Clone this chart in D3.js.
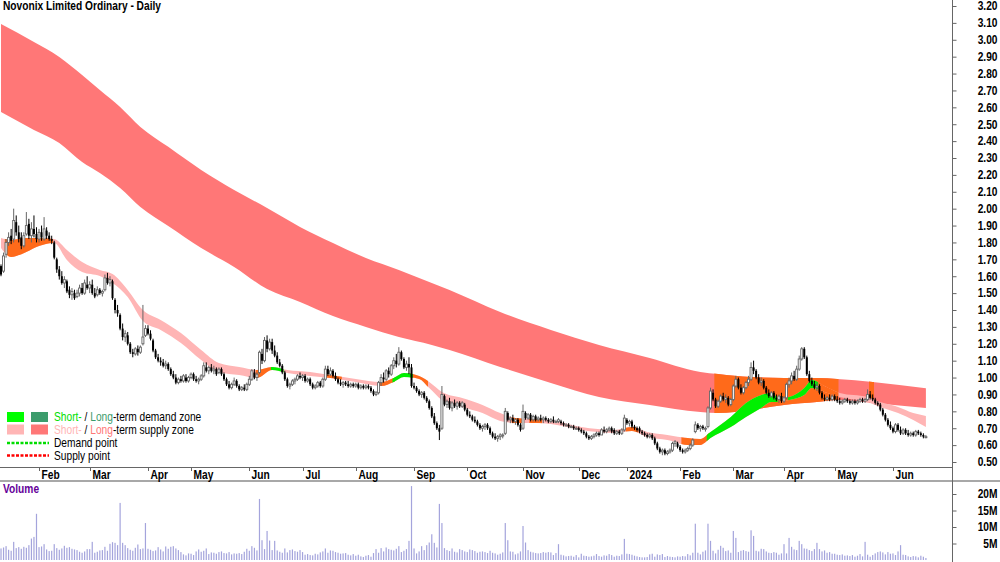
<!DOCTYPE html>
<html>
<head>
<meta charset="utf-8">
<script src="https://cdn.jsdelivr.net/npm/d3@7"></script>
<style>
  body { margin: 0; background: #fff; }
  svg { display: block; font-family: "Liberation Sans", Arial, sans-serif; }
  .title { font-size: 12px; font-weight: bold; }
  .axis-label { font-size: 12px; font-weight: bold; fill: #000; }
  .legend-text { font-size: 12px; }
  .vol-title { font-size: 12px; font-weight: bold; fill: #660099; }
</style>
</head>
<body>
<div id="chart"></div>
<script>
// ---- calendar ----
const startDate = new Date(2023, 0, 10);
const barCount = 366;
const holidays = ['2023-01-26', '2023-04-07', '2023-04-10', '2023-04-25', '2023-06-12', '2023-12-25',
  '2023-12-26', '2024-01-01', '2024-01-26', '2024-03-29', '2024-04-01', '2024-04-25', '2024-06-10'];
const monthLabels = ['Feb', 'Mar', 'Apr', 'May', 'Jun', 'Jul', 'Aug', 'Sep', 'Oct', 'Nov', 'Dec',
  '2024', 'Feb', 'Mar', 'Apr', 'May', 'Jun'];

// ---- daily prices (AUD) ----
const opens = [
  1.66,1.63,1.73,1.80,1.84,1.82,1.92,1.86,1.83,1.78, 1.85,1.91,1.84,1.88,1.85,1.82,1.86,1.82,1.87,1.84,
  1.82,1.80,1.70,1.64,1.60,1.56,1.57,1.52,1.49,1.50, 1.48,1.50,1.53,1.50,1.55,1.53,1.55,1.50,1.49,1.52,
  1.50,1.52,1.59,1.56,1.57,1.46,1.40,1.37,1.29,1.24, 1.25,1.20,1.15,1.14,1.17,1.15,1.20,1.25,1.29,1.26,
  1.22,1.16,1.12,1.10,1.09,1.07,1.08,1.05,1.02,1.00, 0.97,0.99,0.98,1.00,0.98,1.00,1.02,0.99,0.98,0.99,
  1.01,1.06,1.04,1.06,1.04,1.05,1.03,1.05,1.02,0.99, 0.96,0.94,0.96,0.98,0.95,0.93,0.94,0.93,0.96,0.99,
  1.03,1.00,1.03,1.14,1.10,1.22,1.17,1.21,1.16,1.13, 1.09,1.07,1.03,0.99,0.95,0.96,0.98,0.99,1.01,1.00,
  1.01,0.98,0.99,0.96,0.94,0.95,0.97,0.95,0.99,1.05, 1.02,1.04,1.01,0.99,0.97,0.96,0.97,0.96,0.95,0.96,
  0.95,0.96,0.94,0.95,0.94,0.95,0.94,0.92,0.90,0.91, 0.97,1.00,0.99,1.04,1.02,1.07,1.10,1.08,1.15,1.11,
  1.06,1.08,1.06,0.95,0.94,0.92,0.90,0.91,0.88,0.86, 0.82,0.77,0.73,0.70,0.70,0.89,0.84,0.86,0.82,0.85,
  0.83,0.85,0.83,0.84,0.81,0.78,0.77,0.75,0.74,0.72, 0.70,0.71,0.72,0.70,0.67,0.65,0.64,0.65,0.66,0.67,
  0.79,0.75,0.76,0.74,0.75,0.72,0.70,0.79,0.76,0.78, 0.75,0.77,0.75,0.76,0.75,0.76,0.75,0.74,0.75,0.74,
  0.74,0.74,0.73,0.72,0.72,0.71,0.71,0.70,0.70,0.69, 0.68,0.67,0.65,0.64,0.65,0.66,0.67,0.66,0.69,0.68,
  0.69,0.70,0.69,0.67,0.68,0.67,0.69,0.75,0.73,0.74, 0.71,0.70,0.70,0.68,0.67,0.66,0.65,0.66,0.64,0.61,
  0.58,0.56,0.57,0.55,0.56,0.57,0.61,0.61,0.59,0.57, 0.56,0.57,0.58,0.60,0.68,0.72,0.70,0.71,0.70,0.71,
  0.82,0.91,0.87,0.83,0.86,0.89,0.87,0.88,0.84,0.87, 0.95,0.99,0.94,0.91,0.94,0.97,0.99,1.06,1.04,1.00,
  0.97,0.98,0.94,0.91,0.89,0.91,0.88,0.87,0.89,0.86, 0.88,0.96,0.98,1.01,0.99,1.05,1.11,1.17,1.12,1.02,
  0.98,0.96,0.94,0.95,0.91,0.88,0.87,0.88,0.87,0.89, 0.87,0.86,0.85,0.86,0.87,0.86,0.85,0.86,0.85,0.86,
  0.87,0.86,0.87,0.90,0.88,0.87,0.85,0.84,0.81,0.78, 0.75,0.72,0.70,0.68,0.72,0.69,0.67,0.69,0.67,0.66,
  0.67,0.66,0.68,0.67,0.66,0.65
];
const highs = [
  1.67,1.74,1.82,1.86,1.88,2.00,1.96,1.90,1.86,1.86, 1.98,1.94,1.92,1.96,1.89,1.88,1.90,1.95,1.89,1.86,
  1.84,1.81,1.71,1.66,1.63,1.60,1.58,1.54,1.53,1.52, 1.52,1.55,1.56,1.58,1.60,1.57,1.58,1.53,1.54,1.53,
  1.52,1.61,1.62,1.60,1.58,1.47,1.43,1.38,1.32,1.28, 1.27,1.21,1.17,1.18,1.19,1.19,1.43,1.31,1.31,1.28,
  1.23,1.17,1.14,1.12,1.11,1.10,1.09,1.06,1.04,1.02, 1.00,1.01,1.02,1.02,1.01,1.03,1.03,1.01,1.00,1.02,
  1.09,1.09,1.07,1.08,1.07,1.06,1.06,1.06,1.03,1.00, 0.98,0.97,1.00,0.99,0.96,0.95,0.96,0.97,1.01,1.05,
  1.05,1.03,1.16,1.17,1.24,1.25,1.23,1.23,1.19,1.15, 1.11,1.08,1.04,1.00,0.97,0.99,1.00,1.02,1.03,1.02,
  1.02,1.00,1.00,0.97,0.96,0.98,0.98,1.00,1.07,1.07, 1.06,1.05,1.03,1.00,0.99,0.98,0.98,0.98,0.97,0.97,
  0.97,0.97,0.96,0.96,0.96,0.96,0.95,0.93,0.92,0.98, 1.02,1.03,1.05,1.06,1.08,1.12,1.14,1.18,1.16,1.12,
  1.10,1.12,1.08,0.97,0.95,0.93,0.92,0.92,0.89,0.87, 0.83,0.79,0.74,0.72,0.95,0.90,0.87,0.88,0.86,0.87,
  0.86,0.86,0.86,0.85,0.82,0.80,0.78,0.77,0.75,0.73, 0.72,0.73,0.73,0.71,0.68,0.67,0.66,0.67,0.67,0.82,
  0.80,0.77,0.78,0.76,0.76,0.73,0.84,0.80,0.79,0.79, 0.78,0.78,0.77,0.78,0.77,0.77,0.76,0.76,0.77,0.75,
  0.76,0.75,0.74,0.73,0.73,0.72,0.72,0.71,0.71,0.70, 0.69,0.68,0.66,0.66,0.67,0.68,0.68,0.70,0.71,0.70,
  0.71,0.71,0.70,0.69,0.69,0.70,0.78,0.76,0.75,0.75, 0.72,0.71,0.71,0.69,0.68,0.67,0.67,0.67,0.65,0.62,
  0.59,0.58,0.58,0.57,0.58,0.62,0.63,0.62,0.60,0.58, 0.58,0.59,0.61,0.64,0.74,0.73,0.72,0.72,0.71,0.83,
  0.94,0.93,0.88,0.87,0.90,0.91,0.90,0.89,0.88,0.96, 1.01,1.00,0.96,0.95,0.98,1.01,1.09,1.10,1.05,1.02,
  1.00,0.99,0.95,0.93,0.92,0.92,0.90,0.90,0.91,0.89, 0.97,1.00,1.03,1.04,1.07,1.13,1.18,1.18,1.13,1.04,
  1.00,0.98,0.97,0.96,0.92,0.90,0.89,0.90,0.90,0.90, 0.89,0.88,0.87,0.88,0.88,0.87,0.87,0.87,0.87,0.88,
  0.88,0.88,0.93,0.92,0.90,0.88,0.86,0.85,0.82,0.79, 0.76,0.74,0.71,0.73,0.73,0.71,0.70,0.70,0.69,0.68,
  0.68,0.69,0.69,0.68,0.67,0.66
];
const lows = [
  1.60,1.62,1.71,1.78,1.79,1.80,1.84,1.80,1.76,1.77, 1.84,1.82,1.80,1.83,1.80,1.80,1.81,1.81,1.82,1.81,
  1.79,1.70,1.62,1.58,1.55,1.53,1.50,1.47,1.46,1.46, 1.47,1.48,1.49,1.49,1.52,1.50,1.49,1.47,1.48,1.49,
  1.48,1.51,1.55,1.54,1.46,1.38,1.36,1.28,1.22,1.21, 1.19,1.14,1.12,1.13,1.13,1.14,1.19,1.24,1.25,1.22,
  1.15,1.11,1.09,1.07,1.06,1.05,1.04,1.01,0.99,0.96, 0.96,0.97,0.97,0.97,0.97,0.99,0.98,0.97,0.96,0.98,
  1.00,1.03,1.02,1.03,1.02,1.01,1.02,1.01,0.98,0.95, 0.93,0.93,0.95,0.94,0.92,0.92,0.92,0.92,0.95,0.98,
  0.99,0.98,1.02,1.08,1.09,1.15,1.16,1.14,1.12,1.08, 1.06,1.02,0.98,0.94,0.93,0.95,0.96,0.98,0.99,0.98,
  0.97,0.97,0.95,0.93,0.93,0.94,0.94,0.94,0.98,1.01, 1.01,1.00,0.98,0.96,0.95,0.94,0.95,0.94,0.94,0.94,
  0.94,0.93,0.93,0.93,0.93,0.93,0.91,0.89,0.89,0.90, 0.95,0.97,0.98,1.00,1.01,1.05,1.06,1.07,1.10,1.05,
  1.04,1.02,0.94,0.93,0.91,0.89,0.88,0.87,0.85,0.81, 0.76,0.72,0.69,0.63,0.69,0.83,0.82,0.81,0.80,0.82,
  0.81,0.82,0.82,0.80,0.77,0.76,0.74,0.73,0.71,0.69, 0.68,0.69,0.69,0.66,0.64,0.63,0.62,0.63,0.64,0.66,
  0.74,0.73,0.73,0.72,0.71,0.68,0.69,0.75,0.75,0.74, 0.74,0.74,0.74,0.74,0.73,0.74,0.73,0.73,0.73,0.73,
  0.73,0.72,0.71,0.71,0.70,0.70,0.69,0.69,0.68,0.67, 0.66,0.64,0.63,0.63,0.64,0.65,0.65,0.66,0.67,0.67,
  0.68,0.67,0.66,0.66,0.66,0.66,0.68,0.72,0.71,0.70, 0.69,0.68,0.67,0.66,0.65,0.64,0.64,0.63,0.60,0.57,
  0.55,0.54,0.54,0.54,0.55,0.56,0.59,0.58,0.56,0.55, 0.55,0.56,0.57,0.59,0.67,0.69,0.68,0.69,0.68,0.70,
  0.81,0.86,0.82,0.82,0.85,0.86,0.85,0.83,0.83,0.86, 0.94,0.93,0.90,0.90,0.93,0.95,0.98,1.02,0.99,0.96,
  0.95,0.93,0.90,0.88,0.88,0.87,0.86,0.85,0.85,0.85, 0.87,0.94,0.96,0.98,0.98,1.04,1.10,1.11,1.01,0.97,
  0.95,0.93,0.92,0.90,0.87,0.86,0.86,0.86,0.86,0.86, 0.85,0.84,0.84,0.85,0.85,0.84,0.84,0.84,0.84,0.85,
  0.85,0.85,0.86,0.87,0.86,0.84,0.83,0.80,0.77,0.74, 0.71,0.69,0.67,0.67,0.68,0.66,0.66,0.66,0.65,0.65,
  0.65,0.65,0.66,0.65,0.64,0.64
];
const closes = [
  1.61,1.72,1.80,1.83,1.81,1.93,1.86,1.82,1.78,1.84, 1.90,1.84,1.88,1.85,1.82,1.86,1.83,1.88,1.84,1.82,
  1.81,1.71,1.64,1.60,1.56,1.58,1.51,1.49,1.51,1.47, 1.50,1.53,1.50,1.56,1.53,1.55,1.50,1.48,1.52,1.50,
  1.51,1.59,1.56,1.58,1.47,1.40,1.38,1.29,1.24,1.26, 1.20,1.15,1.14,1.17,1.15,1.18,1.24,1.29,1.26,1.23,
  1.16,1.12,1.10,1.09,1.07,1.08,1.05,1.02,1.00,0.97, 0.99,0.98,1.01,0.98,1.00,1.02,0.99,0.98,0.99,1.01,
  1.07,1.04,1.06,1.04,1.05,1.02,1.05,1.02,0.99,0.96, 0.94,0.96,0.98,0.95,0.93,0.94,0.93,0.96,0.99,1.04,
  1.00,1.02,1.15,1.10,1.22,1.17,1.21,1.16,1.13,1.09, 1.07,1.03,0.99,0.95,0.96,0.98,0.99,1.01,1.00,1.01,
  0.98,0.99,0.96,0.94,0.95,0.97,0.95,0.99,1.05,1.02, 1.04,1.01,0.99,0.97,0.96,0.97,0.96,0.95,0.96,0.95,
  0.96,0.94,0.95,0.94,0.95,0.94,0.92,0.90,0.91,0.97, 1.00,0.99,1.04,1.02,1.07,1.10,1.08,1.15,1.11,1.06,
  1.08,1.06,0.95,0.94,0.92,0.90,0.91,0.88,0.86,0.82, 0.77,0.73,0.70,0.68,0.90,0.84,0.86,0.82,0.85,0.83,
  0.85,0.83,0.85,0.81,0.78,0.77,0.75,0.74,0.72,0.70, 0.71,0.72,0.70,0.67,0.65,0.64,0.65,0.66,0.66,0.80,
  0.75,0.76,0.74,0.75,0.72,0.69,0.80,0.76,0.78,0.75, 0.77,0.75,0.76,0.75,0.76,0.75,0.74,0.75,0.74,0.74,
  0.75,0.73,0.72,0.72,0.71,0.71,0.70,0.70,0.69,0.68, 0.67,0.65,0.64,0.65,0.66,0.67,0.66,0.69,0.68,0.69,
  0.70,0.68,0.67,0.68,0.67,0.69,0.76,0.73,0.74,0.71, 0.70,0.69,0.68,0.67,0.66,0.65,0.66,0.64,0.61,0.58,
  0.56,0.57,0.55,0.56,0.57,0.61,0.62,0.59,0.57,0.56, 0.57,0.58,0.60,0.63,0.72,0.70,0.71,0.70,0.70,0.82,
  0.92,0.87,0.83,0.86,0.89,0.87,0.88,0.84,0.87,0.95, 0.99,0.94,0.91,0.94,0.97,0.99,1.06,1.04,1.00,0.97,
  0.98,0.94,0.91,0.89,0.91,0.88,0.87,0.89,0.86,0.88, 0.96,0.98,1.01,0.99,1.05,1.11,1.17,1.12,1.02,0.98,
  0.96,0.94,0.95,0.91,0.88,0.87,0.88,0.87,0.89,0.87, 0.86,0.85,0.86,0.87,0.86,0.85,0.86,0.85,0.86,0.87,
  0.86,0.87,0.90,0.88,0.87,0.85,0.84,0.81,0.78,0.75, 0.72,0.70,0.68,0.72,0.69,0.67,0.69,0.67,0.66,0.67,
  0.66,0.68,0.67,0.66,0.65,0.65
];
// daily volume, millions of shares
const volumes = [
  3.5,3.8,4.2,3.1,2.8,5.5,3.6,3.9,3.4,4.0, 3.7,4.5,6.5,7.0,14.0,3.9,4.1,4.8,3.2,2.7,
  2.8,4.8,3.6,3.1,3.5,4.3,3.7,3.9,3.4,3.2, 3.0,2.5,2.2,2.6,3.3,3.3,5.5,2.2,2.5,2.9,
  3.0,4.0,2.8,4.9,5.4,5.2,4.5,17.3,5.2,4.5, 3.6,3.1,2.8,3.7,4.7,3.3,3.5,11.2,3.4,3.1,
  2.7,2.9,3.9,3.2,2.6,4.1,3.4,4.0,4.2,3.5, 3.0,2.4,1.7,1.4,2.0,1.9,1.5,2.6,3.2,2.5,
  2.8,3.5,1.8,2.3,2.2,1.9,2.4,2.6,2.1,2.0, 2.4,1.7,2.0,1.9,2.1,1.8,2.5,3.4,2.8,4.2,
  3.7,2.9,18.5,6.0,3.3,8.8,5.9,3.0,5.8,2.9, 2.5,2.2,3.5,2.3,3.0,3.2,2.7,2.5,3.0,2.4,
  1.6,1.8,1.5,1.4,1.9,1.7,2.3,2.6,3.5,2.2, 2.9,2.8,2.4,2.2,1.9,2.0,2.1,1.6,1.4,1.8,
  1.3,1.6,1.1,0.9,1.3,1.5,1.0,2.1,3.3,2.2, 3.6,2.6,3.8,3.3,3.1,2.9,3.4,4.2,2.4,2.8,
  3.3,5.8,22.4,3.5,2.0,2.6,4.2,3.0,4.5,5.3, 7.8,5.2,3.8,17.0,11.2,3.6,3.0,2.7,3.5,2.5,
  2.3,3.3,3.0,2.6,2.4,3.2,3.0,2.7,2.2,2.5, 2.6,2.4,2.1,2.8,2.2,2.0,1.6,1.9,2.3,11.2,
  6.0,2.6,2.5,1.7,2.0,2.6,10.3,5.3,3.0,2.5, 2.3,2.1,2.0,2.1,2.4,2.2,2.4,2.3,1.5,2.1,
  4.8,1.6,1.4,1.1,1.2,1.3,1.0,1.5,0.8,1.9, 1.3,1.2,1.0,1.1,1.3,1.8,1.2,1.0,1.4,1.3,
  1.8,1.5,1.0,1.3,1.2,1.7,6.4,1.9,1.8,1.6, 1.3,1.1,0.9,0.8,0.8,0.9,1.7,1.9,1.0,1.7,
  1.5,1.8,0.9,1.2,1.0,0.9,0.8,1.1,1.0,1.2, 1.1,1.8,1.4,2.2,11.0,2.2,1.7,2.5,2.9,11.0,
  5.8,2.8,2.0,3.1,4.3,3.7,2.7,2.9,2.2,8.8, 6.7,2.4,2.8,3.0,2.7,2.5,9.0,7.3,2.8,2.6,
  3.4,3.3,2.6,2.2,2.1,2.4,2.2,1.6,2.0,4.8, 2.0,6.7,4.0,3.2,3.0,5.8,4.8,3.5,3.4,3.0,
  2.7,3.3,5.2,3.3,2.6,2.9,2.2,2.4,1.9,1.9, 1.6,1.5,1.7,1.3,1.4,1.2,1.5,1.0,1.3,1.8,
  1.1,5.5,1.6,1.0,1.5,2.0,2.4,2.6,2.3,1.7, 2.4,1.9,2.0,1.5,2.6,4.5,1.6,1.5,1.1,0.9,
  1.2,1.1,0.8,1.3,1.0,0.6
];

// ---- long-term supply zone (bar index, upper edge, lower edge) ----
const longIdx = [0, 13, 23, 32, 39, 47, 55, 66, 79, 92, 105, 118, 131, 144, 157, 170, 177, 197, 217, 236,
  256, 276, 283, 296, 309, 322, 330, 344, 365];
const longUpper = [3.093, 2.987, 2.898, 2.791, 2.703, 2.602, 2.484, 2.366, 2.229, 2.111, 2.004, 1.892, 1.797,
  1.708, 1.637, 1.560, 1.519, 1.388, 1.282, 1.193, 1.116, 1.033, 1.021, 1.003, 0.998, 0.998, 0.992, 0.974, 0.936];
const longLower = [2.572, 2.466, 2.389, 2.276, 2.211, 2.122, 2.010, 1.897, 1.767, 1.655, 1.524, 1.448, 1.365,
  1.300, 1.240, 1.193, 1.163, 1.063, 0.968, 0.885, 0.838, 0.796, 0.790, 0.808, 0.838, 0.855, 0.867, 0.850, 0.820];
const longOrange = [[282, 330], [343, 344]];

// ---- short-term zone (bar index, upper edge, lower edge) ----
const shortIdx = [0, 4, 10, 15, 21, 26, 32, 39, 44, 50, 56, 63, 71, 79, 86, 94, 101, 107, 113, 122, 130, 140,
  150, 155, 159, 165, 169, 174, 182, 190, 197, 203, 211, 217, 229, 242, 249, 255, 263, 271, 276, 280, 288, 294,
  300, 304, 307, 311, 317, 320, 325, 331, 342, 347, 354, 360, 365];
const shortUpper = [1.826, 1.815, 1.826, 1.826, 1.820, 1.755, 1.684, 1.637, 1.613, 1.519, 1.400, 1.341, 1.264,
  1.163, 1.086, 1.063, 1.045, 1.063, 1.045, 1.033, 1.015, 0.992, 0.974, 0.998, 1.027, 1.009, 0.974, 0.915, 0.879,
  0.838, 0.790, 0.761, 0.755, 0.749, 0.707, 0.690, 0.707, 0.678, 0.660, 0.642, 0.636, 0.678, 0.767, 0.850, 0.897,
  0.909, 0.879, 0.885, 0.938, 0.986, 0.950, 0.909, 0.885, 0.855, 0.826, 0.790, 0.773];
const shortLower = [1.767, 1.714, 1.744, 1.779, 1.797, 1.696, 1.625, 1.601, 1.560, 1.477, 1.335, 1.282, 1.205,
  1.104, 1.033, 1.015, 0.998, 1.045, 1.027, 1.009, 0.998, 0.974, 0.950, 0.974, 1.003, 0.992, 0.938, 0.867, 0.826,
  0.790, 0.743, 0.731, 0.731, 0.725, 0.690, 0.672, 0.684, 0.648, 0.630, 0.601, 0.601, 0.642, 0.707, 0.767, 0.820,
  0.855, 0.855, 0.867, 0.897, 0.938, 0.915, 0.885, 0.855, 0.826, 0.790, 0.749, 0.707];
const shortOrange = [[2, 20], [101, 107], [129, 134], [150, 155], [162, 168], [202, 205], [209, 213],
  [247, 251], [269, 279], [306, 311], [322, 330]];
const shortGreen = [[107, 111], [155, 162], [279, 306], [311, 322]];

// ---- axes and legend ----
const priceTicks = d3.range(50, 321, 10).map(v => v / 100);
const volumeTicks = [5, 10, 15, 20];
const legendZones = [
  {boxes: ['#00ff00', '#3c9c6c'], parts: [['Short-', '#00e000'], [' / ', '#000'], ['Long', '#3c9c6c'], ['-term demand zone', '#000']]},
  {boxes: ['#ffb5b5', '#ff7777'], parts: [['Short-', '#ffb5b5'], [' / ', '#000'], ['Long', '#ff7777'], ['-term supply zone', '#000']]}
];
const legendPoints = [['Demand point', '#00dd00'], ['Supply point', '#ff0000']];

class CandleChart {
  constructor(_config) {
    this.config = {
      parentElement: _config.parentElement,
      containerWidth: 1000,
      containerHeight: 562,
      plotRight: 952,
      priceBottom: 467,
      textSqueeze: 0.85,
      colors: {
        longSupply: '#ff7777',
        shortSupply: '#ffb5b5',
        inZone: '#ff6a1a',
        shortDemand: '#00f000',
        volume: '#a4a4dc'
      }
    };
    this.initVis();
  }

  initVis() {
    let vis = this;
    const cfg = vis.config;

    vis.svg = d3.select(cfg.parentElement).append('svg')
        .attr('width', cfg.containerWidth)
        .attr('height', cfg.containerHeight);
    vis.defs = vis.svg.append('defs');

    vis.defs.append('clipPath').attr('id', 'price-clip')
      .append('rect')
        .attr('x', 0).attr('y', 0)
        .attr('width', cfg.plotRight).attr('height', cfg.priceBottom);

    // bar index -> x, one trading day per step
    vis.xScale = d3.scaleLinear().domain([-0.4, 375.3]).range([0, cfg.plotRight]);
    vis.yScale = d3.scaleLinear().domain([0.5, 3.2]).range([462, 6]);
    vis.volScale = d3.scaleLinear().domain([0, 20]).range([560, 494]);

    const fmt = d3.timeFormat('%Y-%m-%d');
    const holidaySet = new Set(holidays);
    vis.days = d3.timeDay.range(startDate, new Date(2024, 6, 1))
        .filter(d => d.getDay() % 6 !== 0 && !holidaySet.has(fmt(d)))
        .slice(0, barCount);

    vis.bars = vis.days.map((d, i) => ({
      i: i, date: d, o: opens[i], h: highs[i], l: lows[i], c: closes[i], v: volumes[i]
    }));

    vis.renderVis();
  }

  // narrow text look: squeeze horizontally around the anchor point
  squeeze(sel, x, y) {
    return sel.attr('x', 0).attr('y', 0)
        .attr('transform', `translate(${x},${y}) scale(${this.config.textSqueeze},1)`);
  }

  drawBand(parent, key, idx, upper, lower, baseColor, overlays) {
    let vis = this;
    const bandData = idx.map((d, k) => ({i: d, hi: upper[k], lo: lower[k]}));
    const area = d3.area()
        .x(d => vis.xScale(d.i))
        .y0(d => vis.yScale(d.lo))
        .y1(d => vis.yScale(d.hi))
        .curve(d3.curveMonotoneX);

    parent.append('path').datum(bandData)
        .attr('d', area)
        .attr('fill', baseColor);

    overlays.forEach((ov, n) => {
      ov.ranges.forEach((r, m) => {
        const id = `${key}-clip-${n}-${m}`;
        const x0 = vis.xScale(r[0] - 0.5), x1 = vis.xScale(r[1] + 0.5);
        vis.defs.append('clipPath').attr('id', id)
          .append('rect')
            .attr('x', x0).attr('y', 0)
            .attr('width', x1 - x0).attr('height', vis.config.priceBottom);
        parent.append('path').datum(bandData)
            .attr('d', area)
            .attr('fill', ov.color)
            .attr('clip-path', `url(#${id})`);
      });
    });
  }

  renderVis() {
    let vis = this;
    const cfg = vis.config;
    const col = cfg.colors;

    const plot = vis.svg.append('g').attr('clip-path', 'url(#price-clip)');

    // zones
    vis.drawBand(plot, 'long', longIdx, longUpper, longLower, col.longSupply,
        [{ranges: longOrange, color: col.inZone}]);
    vis.drawBand(plot, 'short', shortIdx, shortUpper, shortLower, col.shortSupply,
        [{ranges: shortOrange, color: col.inZone}, {ranges: shortGreen, color: col.shortDemand}]);

    // candles
    const candle = plot.selectAll('.candle')
        .data(vis.bars)
      .join('g')
        .attr('class', 'candle');

    candle.append('line')
        .attr('x1', d => vis.xScale(d.i)).attr('x2', d => vis.xScale(d.i))
        .attr('y1', d => vis.yScale(d.h)).attr('y2', d => vis.yScale(d.l))
        .attr('stroke', d => d.c < d.o ? '#000' : '#666')
        .attr('stroke-width', 1);

    candle.append('rect')
        .attr('x', d => vis.xScale(d.i) - 1)
        .attr('width', 2)
        .attr('y', d => vis.yScale(Math.max(d.o, d.c)))
        .attr('height', d => Math.max(1, Math.abs(vis.yScale(d.o) - vis.yScale(d.c))))
        .attr('fill', d => d.c < d.o ? '#000' : '#fff')
        .attr('stroke', d => d.c < d.o ? 'none' : '#666')
        .attr('stroke-width', 0.9);

    // volume
    vis.svg.append('g').selectAll('.vol')
        .data(vis.bars)
      .join('rect')
        .attr('class', 'vol')
        .attr('x', d => vis.xScale(d.i) - 0.6)
        .attr('width', 1.2)
        .attr('y', d => vis.volScale(d.v))
        .attr('height', d => vis.volScale(0) - vis.volScale(d.v))
        .attr('fill', col.volume);

    // frame lines
    vis.svg.append('line')
        .attr('x1', 0).attr('x2', cfg.plotRight)
        .attr('y1', cfg.priceBottom + 0.5).attr('y2', cfg.priceBottom + 0.5)
        .attr('stroke', '#666');
    vis.svg.append('line')
        .attr('x1', 0).attr('x2', cfg.containerWidth)
        .attr('y1', 481).attr('y2', 481)
        .attr('stroke', '#a8a8a8').attr('stroke-width', 2);
    vis.svg.append('line')
        .attr('x1', cfg.plotRight + 0.5).attr('x2', cfg.plotRight + 0.5)
        .attr('y1', 0).attr('y2', cfg.containerHeight)
        .attr('stroke', '#666');

    // price axis
    const yAxisG = vis.svg.append('g')
        .attr('transform', `translate(${cfg.plotRight + 0.5},0)`)
        .call(d3.axisRight(vis.yScale).tickValues(priceTicks).tickSize(4).tickFormat(d3.format('.2f')));
    yAxisG.select('.domain').remove();
    yAxisG.attr('font-family', null).attr('font-size', null);
    yAxisG.selectAll('.tick line').attr('stroke', '#666');
    yAxisG.selectAll('.tick text')
        .attr('class', 'axis-label')
        .attr('text-anchor', 'end')
        .call(s => vis.squeeze(s, 45, 0));

    // volume axis
    const vAxisG = vis.svg.append('g')
        .attr('transform', `translate(${cfg.plotRight + 0.5},0)`)
        .call(d3.axisRight(vis.volScale).tickValues(volumeTicks).tickSize(4).tickFormat(d => d + 'M'));
    vAxisG.select('.domain').remove();
    vAxisG.attr('font-family', null).attr('font-size', null);
    vAxisG.selectAll('.tick line').attr('stroke', '#666');
    vAxisG.selectAll('.tick text')
        .attr('class', 'axis-label')
        .attr('text-anchor', 'end')
        .call(s => vis.squeeze(s, 45, 0));

    // month ticks
    const monthStarts = vis.bars.filter((d, k) => k > 0 && d.date.getMonth() !== vis.bars[k - 1].date.getMonth())
        .map((d, k) => ({i: d.i, label: monthLabels[k]}));
    const mt = vis.svg.append('g').selectAll('.month')
        .data(monthStarts)
      .join('g')
        .attr('class', 'month')
        .attr('transform', d => `translate(${Math.round(vis.xScale(d.i)) + 0.5},${cfg.priceBottom})`);
    mt.append('line').attr('y1', 0).attr('y2', 4).attr('stroke', '#666');
    mt.append('text')
        .attr('class', 'axis-label')
        .text(d => d.label)
        .call(s => vis.squeeze(s, 2, 12));

    // titles
    vis.svg.append('text')
        .attr('class', 'title')
        .text('Novonix Limited Ordinary - Daily')
        .call(s => vis.squeeze(s, 3, 10));
    vis.svg.append('text')
        .attr('class', 'vol-title')
        .text('Volume')
        .call(s => vis.squeeze(s, 3, 493));

    // legend
    const legend = vis.svg.append('g').attr('class', 'legend');
    legendZones.forEach((row, r) => {
      const top = 412 + r * 12.5;
      row.boxes.forEach((c, b) => {
        legend.append('rect')
            .attr('x', 7 + b * 24).attr('y', top)
            .attr('width', 17).attr('height', 10)
            .attr('fill', c);
      });
      const t = legend.append('text')
          .attr('class', 'legend-text')
          .call(s => vis.squeeze(s, 54, top + 9));
      row.parts.forEach(p => t.append('tspan').attr('fill', p[1]).text(p[0]));
    });
    legendPoints.forEach((p, r) => {
      const yy = 443 + r * 12.5;
      legend.append('line')
          .attr('x1', 7).attr('x2', 49)
          .attr('y1', yy).attr('y2', yy)
          .attr('stroke', p[1]).attr('stroke-width', 2.5)
          .attr('stroke-dasharray', '3,1.5');
      legend.append('text')
          .attr('class', 'legend-text')
          .text(p[0])
          .call(s => vis.squeeze(s, 54, yy + 4));
    });
  }
}

new CandleChart({parentElement: '#chart'});
</script>
</body>
</html>
